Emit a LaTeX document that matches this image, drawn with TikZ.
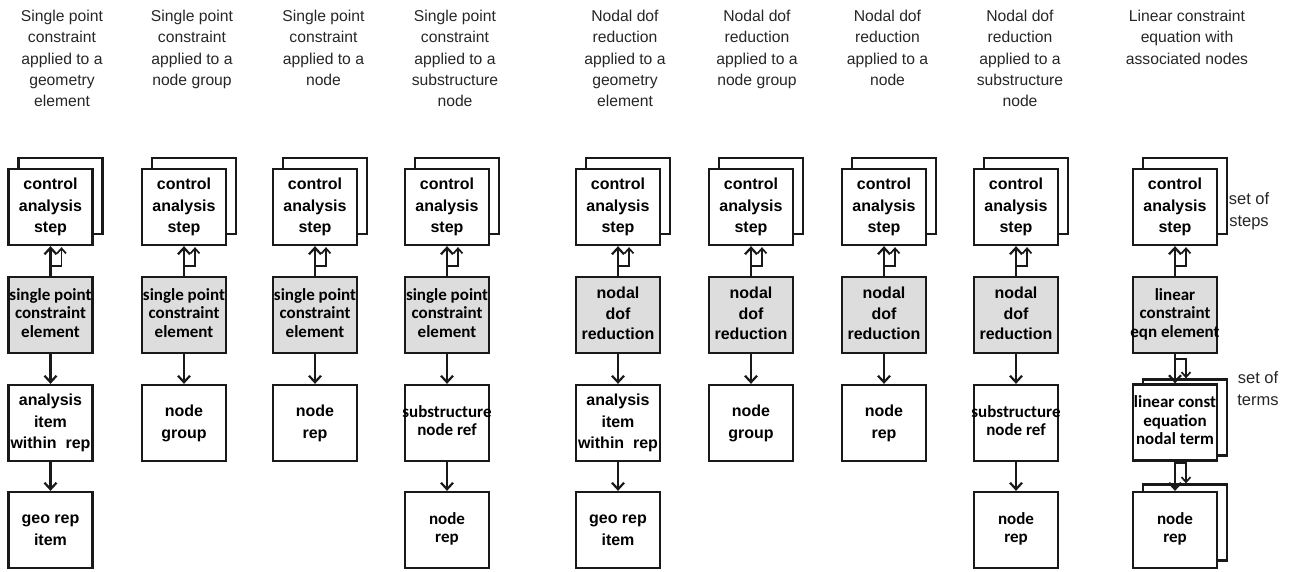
\documentclass[tikz,border=0pt]{standalone}
\usepackage{fontspec}
\setmainfont{Liberation Sans}
\newfontfamily\calib{Carlito}
\usetikzlibrary{arrows.meta}
\definecolor{boxgray}{RGB}{221,221,221}
\definecolor{inkgray}{RGB}{38,38,38}
% centred lines that may stick out of a fixed-size box
\newcommand\boxlines[1]{\makebox[0pt]{\begin{tabular}{@{}c@{}}#1\end{tabular}}}
% lines hanging from the baseline of their first line
\newcommand\toplines[1]{\begin{tabular}[t]{@{}c@{}}#1\end{tabular}}
\tikzset{
  x=1pt, y=-1pt,
  box/.style={draw=black!90, line width=2.3pt, fill=white, minimum width=84pt, minimum height=76pt, inner sep=0pt},
  shadebox/.style={box, fill=boxgray},
  ar/.style={font=\bfseries\fontsize{16}{21.5}\selectfont},
  arn/.style={font=\bfseries\fontsize{16}{20.5}\selectfont},
  ca/.style={font=\calib\bfseries\fontsize{17}{18.5}\selectfont},
  head/.style={anchor=base, inner sep=0pt, text=inkgray, font=\fontsize{15.7}{21.3}\selectfont},
  side/.style={anchor=base, inner sep=0pt, text=inkgray, font=\fontsize{16.5}{22}\selectfont},
  link/.style={draw=black!90, line width=2.2pt, -{Straight Barb[length=6.5pt,width=12pt]}},
  sublink/.style={draw=black!90, line width=1.7pt, -{Straight Barb[length=5pt,width=9pt]}},
}
\begin{document}
\begin{tikzpicture}
\path[use as bounding box] (0,0) rectangle (1289,571);

% column headings
\node[head] (h1) at (62,21.5)   {\toplines{Single point\\constraint\\applied to a\\geometry\\element}};
\node[head] (h2) at (192,21.5)  {\toplines{Single point\\constraint\\applied to a\\node group}};
\node[head] (h3) at (323.5,21.5){\toplines{Single point\\constraint\\applied to a\\node}};
\node[head] (h4) at (455,21.5)  {\toplines{Single point\\constraint\\applied to a\\substructure\\node}};
\node[head] (h5) at (625,21.5)  {\toplines{Nodal dof\\reduction\\applied to a\\geometry\\element}};
\node[head] (h6) at (757,21.5)  {\toplines{Nodal dof\\reduction\\applied to a\\node group}};
\node[head] (h7) at (887.5,21.5){\toplines{Nodal dof\\reduction\\applied to a\\node}};
\node[head] (h8) at (1020,21.5) {\toplines{Nodal dof\\reduction\\applied to a\\substructure\\node}};
\node[head] (h9) at (1187,21.5) {\toplines{Linear constraint\\equation with\\associated nodes}};

% stacked control analysis steps
\foreach \i/\x in {1/50.5,2/184,3/315,4/447,5/618,6/751,7/884,8/1016,9/1175}{
  \node[box] (cb\i) at (\x+10,196) {};
  \node[box,ar] (c\i) at (\x,207) {\boxlines{control\\analysis\\step}};
}

% shaded element boxes
\node[shadebox,ca] (g1) at (50.5,315) {\boxlines{single point\\constraint\\element}};
\node[shadebox,ca] (g2) at (184,315)  {\boxlines{single point\\constraint\\element}};
\node[shadebox,ca] (g3) at (315,315)  {\boxlines{single point\\constraint\\element}};
\node[shadebox,ca] (g4) at (447,315)  {\boxlines{single point\\constraint\\element}};
\node[shadebox,arn] (g5) at (618,315) {\boxlines{nodal\\dof\\reduction}};
\node[shadebox,arn] (g6) at (751,315) {\boxlines{nodal\\dof\\reduction}};
\node[shadebox,arn] (g7) at (884,315) {\boxlines{nodal\\dof\\reduction}};
\node[shadebox,arn] (g8) at (1016,315){\boxlines{nodal\\dof\\reduction}};
\node[shadebox,ca] (g9) at (1175,315) {\boxlines{linear\\constraint\\eqn element}};

% third row
\node[box,ar] (r1) at (50.5,423) {\boxlines{analysis\\item\\within~ rep}};
\node[box,ar] (r2) at (184,423)  {\boxlines{node\\group}};
\node[box,ar] (r3) at (315,423)  {\boxlines{node\\rep}};
\node[box,ca] (r4) at (447,423)  {\boxlines{substructure\\node ref}};
\node[box,ar] (r5) at (618,423)  {\boxlines{analysis\\item\\within~ rep}};
\node[box,ar] (r6) at (751,423)  {\boxlines{node\\group}};
\node[box,ar] (r7) at (884,423)  {\boxlines{node\\rep}};
\node[box,ca] (r8) at (1016,423) {\boxlines{substructure\\node ref}};
\node[box] (tb9) at (1185,417.5) {};
\node[box,ca] (r9) at (1175,422.5) {\boxlines{linear const\\equation\\nodal term}};

% fourth row
\node[box,ar] (s1) at (50.5,530) {\boxlines{geo rep\\item}};
\node[box,ca] (s4) at (447,530)  {\boxlines{node\\rep}};
\node[box,ar] (s5) at (618,530)  {\boxlines{geo rep\\item}};
\node[box,ca] (s8) at (1016,530) {\boxlines{node\\rep}};
\node[box] (sb9) at (1185,522.5) {};
\node[box,ca] (s9) at (1175,530) {\boxlines{node\\rep}};

% set labels
\node[side] (steps) at (1249,204) {\toplines{set of\\steps}};
\node[side] (terms) at (1258,383.5) {\toplines{set of\\terms}};

% element to step links
\foreach \i in {1,...,9}{
  \draw[link] (g\i.north) -- (c\i.south);
  \draw[sublink] ([yshift=10pt]g\i.north) -| ([xshift=11pt,yshift=-1pt]c\i.south);
}

% downward links
\foreach \a/\b in {g1/r1,r1/s1,g2/r2,g3/r3,g4/r4,r4/s4,g5/r5,r5/s5,g6/r6,g7/r7,g8/r8,r8/s8,g9/r9,r9/s9}{
  \draw[link] (\a.south) -- (\b.north);
}
\draw[sublink] ([yshift=-5pt]g9.south) -| ([xshift=1pt]tb9.north);
\draw[sublink] ([yshift=-1.5pt]r9.south) -| ([xshift=1pt]sb9.north);
\end{tikzpicture}
\end{document}
